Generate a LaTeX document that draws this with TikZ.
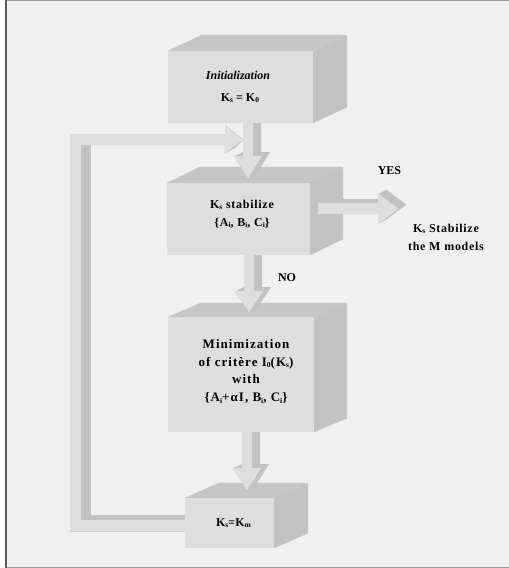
\documentclass[tikz,border=0pt]{standalone}
\usepackage{fontspec}
\setmainfont{Liberation Serif}
\definecolor{pagebg}{HTML}{F0F0F0}
\definecolor{facec}{HTML}{DEDEDE}
\definecolor{topc}{HTML}{C6C6C6}
\definecolor{sidec}{HTML}{C2C2C2}
\definecolor{arrlight}{HTML}{DEDEDE}
\definecolor{arrdark}{HTML}{C2C2C2}
\pgfdeclarelayer{bg}
\pgfdeclarelayer{lA}\pgfdeclarelayer{lB}\pgfdeclarelayer{lC}\pgfdeclarelayer{lD}
\pgfdeclarelayer{lE}\pgfdeclarelayer{lF}\pgfdeclarelayer{lG}\pgfdeclarelayer{lH}
\pgfsetlayers{bg,lA,lB,lC,lD,lE,lF,lG,lH,main}
% small lowered index letters
\newcommand\ssub[1]{\raisebox{-0.3ex}{\fontsize{7.5}{8}\selectfont #1}}
% front face of a block, then its top and right faces
\newcommand\cubefaces[3]{%
  \fill[topc] (#1.north west) -- ++(#2,#3) -- ([shift={(#2,#3)}]#1.north east) -- (#1.north east) -- cycle;
  \fill[sidec] (#1.north east) -- ++(#2,#3) -- ([shift={(#2,#3)}]#1.south east) -- (#1.south east) -- cycle;}
% extruded block arrow: offset (#1,-#2), start #3, outline #4
\newcommand\blockarrow[4]{%
  \foreach \k in {0,1,...,10}{\fill[arrdark] ([shift={(\k*#1/10,-\k*#2/10)}]#3) #4;}
  \fill[arrlight] (#3) #4;}
\begin{document}
\begin{tikzpicture}[x=1pt,y=-1pt,
  face/.style={fill=facec,draw=none,inner sep=0pt},
  lbl/.style={font=\fontsize{12}{18}\selectfont\bfseries,align=center,inner sep=0pt},
  spaced/.style={font=\fontsize{12}{18}\selectfont\bfseries\addfontfeature{LetterSpace=6}}]
\useasboundingbox (0,0) rectangle (509,568);
\begin{pgfonlayer}{bg}
\fill[white] (0,0) rectangle (509,568);
\fill[pagebg] (6,0.5) rectangle (509,567);
\draw[gray!80,line width=1pt] (6,0.5) -- (509,0.5);
\draw[gray!80,line width=1pt] (6,567) -- (509,567);
\draw[black!65,line width=1.6pt] (6,0) -- (6,568);
\end{pgfonlayer}

% blocks
\begin{pgfonlayer}{lB}
\node[face,minimum width=89pt,minimum height=50pt] (upd) at (229.5,523) {};
\cubefaces{upd}{34}{-15}
\end{pgfonlayer}
\begin{pgfonlayer}{lD}
\node[face,minimum width=146pt,minimum height=115pt] (mini) at (241,374.5) {};
\cubefaces{mini}{33}{-14}
\end{pgfonlayer}
\begin{pgfonlayer}{lF}
\node[face,minimum width=143pt,minimum height=72pt] (stab) at (238.5,219) {};
\cubefaces{stab}{33}{-16}
\end{pgfonlayer}
\begin{pgfonlayer}{lH}
\node[face,minimum width=145pt,minimum height=72pt] (init) at (240.5,87) {};
\cubefaces{init}{34}{-16}
\end{pgfonlayer}

% connectors
\coordinate (a1) at ([xshift=7.5pt]init.south);
\coordinate (a2) at ([xshift=10.5pt]stab.south);
\coordinate (a3) at ([xshift=6pt]mini.south);
\coordinate (ay) at ([xshift=8pt,yshift=10.5pt]stab.east);
\coordinate (lp) at ([xshift=5pt,yshift=3pt]upd.west);
\coordinate (lend) at (243,139.5);

\begin{pgfonlayer}{lA}
\blockarrow{10}{5}{lp}{-- ++(-109,0) -- ++(0,-375) -- ++(144,0) -- ++(0,8.5) -- (lend) -- ++(-18,-14) -- ++(0,8.5) -- ++(-155,0) -- ++(0,397) -- ++(120,0) -- cycle}
\end{pgfonlayer}
\begin{pgfonlayer}{lC}
\blockarrow{8}{4}{a3}{++(-5,0) -- ++(0,36) -- ++(-9,0) -- ++(14,22) -- ++(14,-22) -- ++(-9,0) -- ++(0,-36) -- cycle}
\end{pgfonlayer}
\begin{pgfonlayer}{lE}
\blockarrow{8}{4}{a2}{++(-5,0) -- ++(0,36) -- ++(-9,0) -- ++(14,21) -- ++(14,-21) -- ++(-9,0) -- ++(0,-36) -- cycle}
\end{pgfonlayer}
\begin{pgfonlayer}{lG}
\blockarrow{8}{4}{a1}{++(-5,0) -- ++(0,33) -- ++(-9,0) -- ++(14,22) -- ++(14,-22) -- ++(-9,0) -- ++(0,-33) -- cycle}
\blockarrow{8}{4}{ay}{++(0,-5.5) -- ++(60,0) -- ++(0,-9.5) -- ++(20,15) -- ++(-20,15) -- ++(0,-9.5) -- ++(-60,0) -- cycle}
\end{pgfonlayer}

% texts
\node[lbl,font=\fontsize{12}{18}\selectfont\bfseries\itshape] (t1a) at (238,75) {Initialization};
\node[lbl] (t1b) at (240,98) {K\ssub{s} = K\ssub{0}};
\node[lbl,spaced] (t2) at (242,214) {K\ssub{s} stabilize\\\{A\ssub{i}, B\ssub{i}, C\ssub{i}\}};
\node[lbl] (yes) at (389.5,171) {YES};
\node[lbl,spaced] (res) at (446,237) {K\ssub{s} Stabilize\\the M models};
\node[lbl] (no) at (287,278) {NO};
\node[lbl,font=\fontsize{13}{17.7}\selectfont\bfseries\addfontfeature{LetterSpace=8}] (t3) at (246,371.5)
  {Minimization\\of critère I\ssub{0}(K\ssub{s})\\with\\\{A\ssub{i}+αI, B\ssub{i}, C\ssub{i}\}};
\node[lbl] (t4) at (233.5,523) {K\ssub{s}=K\ssub{m}};
\end{tikzpicture}
\end{document}
